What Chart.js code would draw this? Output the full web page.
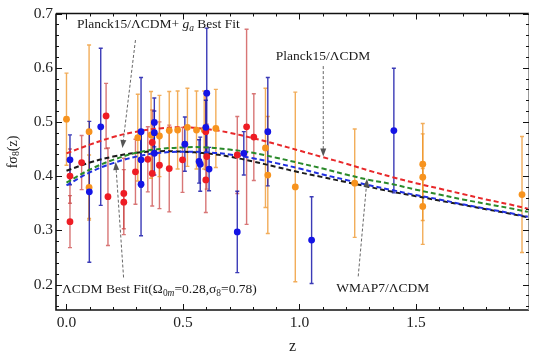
<!DOCTYPE html>
<html>
<head>
<meta charset="utf-8">
<script src="https://cdn.jsdelivr.net/npm/chart.js@4"></script>
<style>
  html, body { margin: 0; padding: 0; background: #fff; }
  #wrap { width: 533px; height: 355px; }
</style>
</head>
<body>
<div id="wrap"><canvas id="c" width="533" height="355"></canvas></div>
<script>
// measurements (z, f*sigma8, error)
const redZ   = [0.015, 0.015, 0.065, 0.170, 0.178, 0.246, 0.246, 0.296, 0.349, 0.368, 0.368, 0.399, 0.441, 0.498, 0.598, 0.602, 0.598, 0.733, 0.773, 0.804];
const redF   = [0.316, 0.400, 0.425, 0.511, 0.362, 0.368, 0.352, 0.408, 0.431, 0.462, 0.405, 0.420, 0.414, 0.430, 0.482, 0.436, 0.393, 0.439, 0.491, 0.472];
const redErr = [0.048, 0.050, 0.050, 0.060, 0.090, 0.065, 0.060, 0.060, 0.060, 0.060, 0.060, 0.080, 0.080, 0.060, 0.070, 0.060, 0.060, 0.071, 0.180, 0.080];

const blueZ   = [0.015, 0.098, 0.147, 0.320, 0.320, 0.320, 0.377, 0.377, 0.377, 0.508, 0.569, 0.574, 0.602, 0.598, 0.612, 0.733, 0.761, 0.864, 1.052, 1.405];
const blueF   = [0.430, 0.371, 0.491, 0.482, 0.385, 0.430, 0.499, 0.480, 0.442, 0.459, 0.427, 0.422, 0.553, 0.490, 0.413, 0.297, 0.442, 0.482, 0.282, 0.484];
const blueErr = [0.046, 0.130, 0.145, 0.100, 0.095, 0.050, 0.045, 0.040, 0.040, 0.050, 0.040, 0.050, 0.120, 0.050, 0.040, 0.075, 0.040, 0.100, 0.080, 0.115];

const orangeZ   = [0.000, 0.097, 0.097, 0.306, 0.363, 0.399, 0.441, 0.477, 0.519, 0.558, 0.591, 0.641, 0.854, 0.864, 0.982, 1.237, 1.529, 1.529, 1.529, 1.955];
const orangeF   = [0.505, 0.379, 0.482, 0.471, 0.476, 0.474, 0.484, 0.485, 0.490, 0.485, 0.485, 0.488, 0.452, 0.402, 0.380, 0.387, 0.422, 0.398, 0.344, 0.366];
const orangeErr = [0.085, 0.060, 0.160, 0.080, 0.080, 0.075, 0.072, 0.072, 0.072, 0.072, 0.072, 0.072, 0.110, 0.108, 0.175, 0.100, 0.075, 0.080, 0.070, 0.107];

// model curves
const curveZ     = [0, 0.1, 0.2, 0.3, 0.4, 0.5, 0.6, 0.7, 0.8, 0.9, 1.0, 1.1, 1.2, 1.3, 1.4, 1.5, 1.6, 1.7, 1.8, 1.9, 1.98];
const planckGa   = [0.442, 0.458, 0.472, 0.482, 0.488, 0.490, 0.487, 0.480, 0.470, 0.459, 0.447, 0.435, 0.423, 0.410, 0.398, 0.387, 0.377, 0.367, 0.357, 0.348, 0.340];
const planck15   = [0.388, 0.412, 0.430, 0.443, 0.450, 0.453, 0.453, 0.449, 0.443, 0.434, 0.424, 0.414, 0.403, 0.393, 0.385, 0.375, 0.366, 0.357, 0.349, 0.341, 0.334];
const wmap7      = [0.383, 0.407, 0.424, 0.436, 0.443, 0.445, 0.444, 0.440, 0.433, 0.424, 0.414, 0.403, 0.393, 0.383, 0.374, 0.365, 0.357, 0.348, 0.340, 0.332, 0.325];
const lcdmFit    = [0.410, 0.425, 0.436, 0.443, 0.446, 0.445, 0.442, 0.436, 0.427, 0.417, 0.407, 0.398, 0.389, 0.380, 0.371, 0.363, 0.355, 0.347, 0.339, 0.331, 0.324];

const xTicks = [0, 0.5, 1, 1.5];
const yTicks = [0.2, 0.3, 0.4, 0.5, 0.6, 0.7];

const SERIF = '"Liberation Serif", "DejaVu Serif", serif';

const pts = (zs, fs) => zs.map((z, i) => ({ x: z, y: fs[i] }));

// text parts: {t, it, sub}
const labels = [
  { z: 0.045, f: 0.679, parts: [{ t: 'Planck15/ΛCDM+ ' }, { t: 'g', it: true }, { t: 'a', it: true, sub: true }, { t: ' Best Fit' }] },
  { z: 0.898, f: 0.620, parts: [{ t: 'Planck15/ΛCDM' }] },
  { z: -0.019, f: 0.190, parts: [{ t: 'ΛCDM Best Fit(Ω' }, { t: '0', sub: true }, { t: 'm', it: true, sub: true }, { t: '=0.28,σ' }, { t: '8', sub: true }, { t: '=0.78)' }] },
  { z: 1.158, f: 0.192, parts: [{ t: 'WMAP7/ΛCDM' }] }
];
// arrows: from (z0,f0) to tip (z1,f1)
const arrows = [
  [0.296, 0.651, 0.240, 0.452],
  [1.102, 0.603, 1.102, 0.436],
  [0.245, 0.213, 0.211, 0.426],
  [1.252, 0.215, 1.290, 0.395]
];

function drawRich(ctx, x, y, parts, size) {
  ctx.textBaseline = 'middle';
  ctx.textAlign = 'left';
  let cx = x;
  parts.forEach(p => {
    const s = p.sub ? size * 0.7 : size;
    ctx.font = (p.it ? 'italic ' : '') + s + 'px ' + SERIF;
    ctx.fillText(p.t, cx, p.sub ? y + size * 0.28 : y);
    cx += ctx.measureText(p.t).width;
  });
}

const errorBars = {
  id: 'errorBars',
  beforeDatasetsDraw(chart) {
    const { ctx, scales: { x, y } } = chart;
    const sets = [
      [redZ, redF, redErr, 'rgba(200,60,60,0.7)'],
      [orangeZ, orangeF, orangeErr, 'rgba(238,145,35,0.75)'],
      [blueZ, blueF, blueErr, 'rgba(25,25,170,0.85)']
    ];
    ctx.save();
    ctx.lineWidth = 1.4;
    sets.forEach(([zs, fs, es, col]) => {
      ctx.strokeStyle = col;
      zs.forEach((z, i) => {
        const px = x.getPixelForValue(z);
        const top = y.getPixelForValue(fs[i] + es[i]);
        const bot = y.getPixelForValue(fs[i] - es[i]);
        ctx.beginPath();
        ctx.moveTo(px, top); ctx.lineTo(px, bot);
        ctx.moveTo(px - 2, top); ctx.lineTo(px + 2, top);
        ctx.moveTo(px - 2, bot); ctx.lineTo(px + 2, bot);
        ctx.stroke();
      });
    });
    ctx.restore();
  }
};

const frame = {
  id: 'frame',
  afterDraw(chart) {
    const { ctx, chartArea: a, scales: { x, y } } = chart;
    ctx.save();
    // frame
    ctx.strokeStyle = '#111';
    ctx.lineWidth = 1.6;
    ctx.beginPath();
    ctx.moveTo(a.left, a.top); ctx.lineTo(a.left, a.bottom); ctx.lineTo(a.right, a.bottom);
    ctx.moveTo(a.left, a.top); ctx.lineTo(a.right, a.top);
    ctx.stroke();
    ctx.strokeStyle = '#999';
    ctx.lineWidth = 1;
    ctx.beginPath();
    ctx.moveTo(a.right - 0.5, a.top); ctx.lineTo(a.right - 0.5, a.bottom);
    ctx.stroke();
    // ticks, pointing inward
    ctx.strokeStyle = '#111';
    ctx.lineWidth = 1;
    ctx.beginPath();
    for (let k = 0; k <= 19; k++) {
      const v = k / 10;
      const len = k % 5 === 0 ? 6 : 3;
      const px = Math.round(x.getPixelForValue(v)) + 0.5;
      ctx.moveTo(px, a.bottom); ctx.lineTo(px, a.bottom - len);
      ctx.moveTo(px, a.top); ctx.lineTo(px, a.top + len);
    }
    for (let k = 8; k <= 35; k++) {
      const v = k / 50;
      const len = k % 5 === 0 ? 6 : 3;
      const py = Math.round(y.getPixelForValue(v)) + 0.5;
      ctx.moveTo(a.left, py); ctx.lineTo(a.left + len, py);
      ctx.moveTo(a.right, py); ctx.lineTo(a.right - len, py);
    }
    ctx.stroke();

    // arrows
    ctx.strokeStyle = '#666';
    ctx.fillStyle = '#555';
    ctx.lineWidth = 1;
    arrows.forEach(([z0, f0, z1, f1]) => {
      const x0 = x.getPixelForValue(z0), y0 = y.getPixelForValue(f0);
      const x1 = x.getPixelForValue(z1), y1 = y.getPixelForValue(f1);
      const ang = Math.atan2(y1 - y0, x1 - x0);
      ctx.setLineDash([3, 2]);
      ctx.beginPath();
      ctx.moveTo(x0, y0);
      ctx.lineTo(x1 - 6 * Math.cos(ang), y1 - 6 * Math.sin(ang));
      ctx.stroke();
      ctx.setLineDash([]);
      ctx.beginPath();
      ctx.moveTo(x1, y1);
      ctx.lineTo(x1 - 8 * Math.cos(ang) + 3 * Math.sin(ang), y1 - 8 * Math.sin(ang) - 3 * Math.cos(ang));
      ctx.lineTo(x1 - 8 * Math.cos(ang) - 3 * Math.sin(ang), y1 - 8 * Math.sin(ang) + 3 * Math.cos(ang));
      ctx.closePath();
      ctx.fill();
    });

    // annotations
    ctx.fillStyle = '#1a1a1a';
    labels.forEach(l => drawRich(ctx, x.getPixelForValue(l.z), y.getPixelForValue(l.f), l.parts, 13.5));

    // y title
    ctx.save();
    ctx.translate(13, 152);
    ctx.rotate(-Math.PI / 2);
    const parts = [{ t: 'fσ' }, { t: '8', sub: true }, { t: '(z)' }];
    let w = 0;
    parts.forEach(p => { ctx.font = (p.sub ? 9.8 : 14) + 'px ' + SERIF; w += ctx.measureText(p.t).width; });
    drawRich(ctx, -w / 2, 0, parts, 14);
    ctx.restore();
    ctx.restore();
  }
};

const dashed = (label, data, color) => ({
  type: 'line', label, data: pts(curveZ, data), borderColor: color, borderWidth: 2,
  borderDash: [5, 3], pointRadius: 0, fill: false, tension: 0.4, showLine: true
});
const dots = (label, data, color) => ({
  type: 'scatter', label, data, backgroundColor: color, borderColor: color, pointRadius: 3.4, borderWidth: 0
});

new Chart(document.getElementById('c'), {
  type: 'scatter',
  data: {
    datasets: [
      dots('blue', pts(blueZ, blueF), '#1414e6'),
      dots('red', pts(redZ, redF), '#ee1c24'),
      dots('orange', pts(orangeZ, orangeF), '#f7931e'),
      dashed('Planck15/ΛCDM+ga', planckGa, '#e8282a'),
      dashed('Planck15/ΛCDM', planck15, '#2a8a2a'),
      dashed('WMAP7/ΛCDM', wmap7, '#2030e0'),
      dashed('ΛCDM best fit', lcdmFit, '#1a1a1a')
    ]
  },
  options: {
    responsive: false,
    animation: false,
    devicePixelRatio: 1,
    layout: { padding: { top: 13.5, right: 1, left: 0, bottom: 0 } },
    plugins: { legend: { display: false }, tooltip: { enabled: false } },
    scales: {
      x: {
        type: 'linear', min: -0.045, max: 1.985,
        afterBuildTicks: s => { s.ticks = xTicks.map(v => ({ value: v })); },
        afterFit: s => { s.height = 45; },
        grid: { display: false, drawTicks: false },
        border: { display: false },
        ticks: { padding: 4, color: '#222', font: { family: SERIF, size: 15.5 }, callback: v => v.toFixed(1), maxRotation: 0 },
        title: { display: true, text: 'z', color: '#222', font: { family: SERIF, size: 16 }, padding: { top: 0, bottom: -1 } }
      },
      y: {
        type: 'linear', min: 0.153, max: 0.7,
        afterBuildTicks: s => { s.ticks = yTicks.map(v => ({ value: v })); },
        afterFit: s => { s.width = 56; },
        grid: { display: false, drawTicks: false },
        border: { display: false },
        ticks: { padding: 3, color: '#222', font: { family: SERIF, size: 15.5 }, callback: v => v.toFixed(1) }
      }
    }
  },
  plugins: [errorBars, frame]
});
</script>
</body>
</html>
